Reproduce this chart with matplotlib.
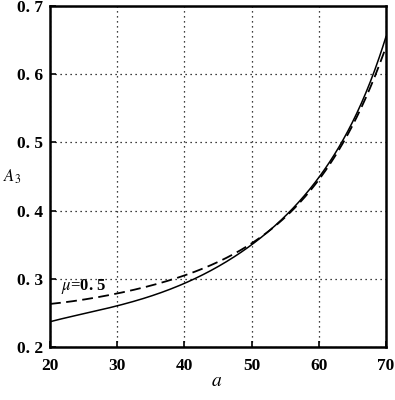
import matplotlib
matplotlib.use("Agg")
import matplotlib.pyplot as plt
import numpy as np

a_vals = [20, 25, 30, 35, 40, 45, 50, 55, 60, 65, 70]
solid_vals = [0.237, 0.249, 0.260, 0.275, 0.293, 0.318, 0.350, 0.392, 0.448, 0.530, 0.655]
dashed_vals = [0.263, 0.270, 0.278, 0.290, 0.305, 0.325, 0.352, 0.390, 0.445, 0.525, 0.640]
xticks = [20, 30, 40, 50, 60, 70]
yticks = [0.2, 0.3, 0.4, 0.5, 0.6, 0.7]
ytick_labels = ["0. 2", "0. 3", "0. 4", "0. 5", "0. 6", "0. 7"]

plt.rcParams['font.family'] = ['Liberation Serif', 'DejaVu Serif']
plt.rcParams['mathtext.fontset'] = 'stix'

fig = plt.figure(figsize=(3.95, 4.0), dpi=100)
ax = fig.add_axes([50/395, 1-347/400, 336/395, 341/400])

xs = np.linspace(20, 70, 300)
cs = np.polyfit(a_vals, np.log(solid_vals), 5)
cd = np.polyfit(a_vals, np.log(dashed_vals), 5)
ax.plot(xs, np.exp(np.polyval(cs, xs)), color='black', lw=1.1)
ax.plot(xs, np.exp(np.polyval(cd, xs)), color='black', lw=1.3, ls=(0, (6, 3)))

ax.set_xlim(20, 70)
ax.set_ylim(0.2, 0.7)
ax.set_xticks(xticks)
ax.set_yticks(yticks)
ax.set_yticklabels(ytick_labels)
ax.grid(True, color='black', ls=(0, (1, 3)), lw=0.9)
ax.tick_params(direction='in', length=4, width=1.2, labelsize=12.5)
ax.tick_params(axis='x', pad=8)
ax.tick_params(axis='y', pad=5)
for lbl in ax.get_xticklabels() + ax.get_yticklabels():
    lbl.set_fontweight('bold')
for s in ax.spines.values():
    s.set_linewidth(1.8)

ax.text(21.7, 0.289, r'$\mu$=0. 5', fontsize=12, fontweight='bold', va='center', ha='left')
fig.text(12/395, 1-177/400, r'$A_3$', fontsize=12, ha='center', va='center')
fig.text(217/395, 1-382/400, r'$a$', fontsize=14, ha='center', va='center')

fig.savefig('out.png', dpi=100)
